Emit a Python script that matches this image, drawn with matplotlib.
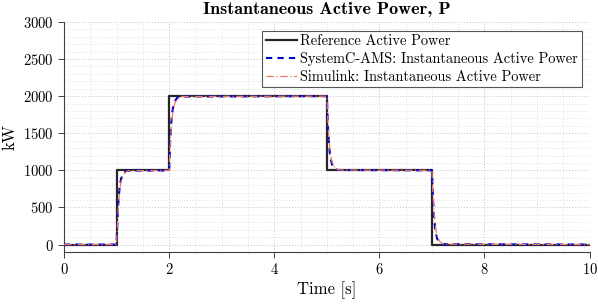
import matplotlib
matplotlib.use("Agg")
import matplotlib.pyplot as plt
from matplotlib.ticker import MultipleLocator

plt.rcParams['font.family'] = ['cmr10', 'DejaVu Serif']
plt.rcParams['axes.formatter.use_mathtext'] = True
plt.rcParams['mathtext.fontset'] = 'cm'

# Reference step profile
ref_t = [0, 1, 1, 2, 2, 5, 5, 7, 7, 10]
ref_p = [0, 0, 1000, 1000, 2000, 2000, 1000, 1000, 0, 0]

# SystemC-AMS response
sc_t = [0, 1.00, 1.02, 1.04, 1.06, 1.08, 1.10, 1.15, 1.20, 2.00, 2.02, 2.04, 2.06, 2.08, 2.10, 2.15, 2.20,
        5.00, 5.02, 5.04, 5.06, 5.08, 5.10, 5.15, 5.20, 7.00, 7.02, 7.04, 7.06, 7.08, 7.10, 7.15, 7.20, 10]
sc_p = [0, 0, 390, 630, 780, 865, 920, 975, 995, 1000, 1390, 1630, 1780, 1865, 1920, 1975, 1995,
        2000, 1610, 1370, 1220, 1135, 1080, 1025, 1005, 1000, 610, 370, 220, 135, 80, 25, 5, 0]

# Simulink response
sl_t = [0, 1.00, 1.02, 1.04, 1.06, 1.08, 1.10, 1.15, 1.22, 2.00, 2.02, 2.04, 2.06, 2.08, 2.10, 2.15, 2.22,
        5.00, 5.02, 5.04, 5.06, 5.08, 5.10, 5.15, 5.22, 7.00, 7.02, 7.04, 7.06, 7.08, 7.10, 7.15, 7.22, 10]
sl_p = [0, 0, 330, 560, 720, 820, 885, 960, 995, 1000, 1330, 1560, 1720, 1820, 1885, 1960, 1995,
        2000, 1670, 1440, 1280, 1180, 1115, 1040, 1005, 1000, 670, 440, 280, 180, 115, 40, 5, 0]

fig = plt.figure(figsize=(5.98, 3.04), dpi=100)
ax = fig.add_axes([0.107, 0.171, 0.879, 0.757])

ax.plot(ref_t, ref_p, color='#262626', lw=1.6, label='Reference Active Power', zorder=3)
ax.plot(sc_t, sc_p, color='#0000c8', lw=1.5, ls=(0, (3, 2.5)), label='SystemC-AMS: Instantaneous Active Power', zorder=4)
ax.plot(sl_t, sl_p, color='#f07860', lw=0.9, ls=(0, (6, 2, 1, 2)), label='Simulink: Instantaneous Active Power', zorder=5)

ax.set_xlim(0, 10)
ax.set_ylim(-100, 3000)
ax.xaxis.set_major_locator(MultipleLocator(2))
ax.xaxis.set_minor_locator(MultipleLocator(0.5))
ax.yaxis.set_major_locator(MultipleLocator(500))
ax.yaxis.set_minor_locator(MultipleLocator(100))
ax.grid(which='major', color='#c0c0c0', ls=(0, (1, 2)), lw=0.7)
ax.grid(which='minor', color='#dadada', ls=(0, (1, 2)), lw=0.6)
ax.set_axisbelow(True)

for s in ['top', 'right']:
    ax.spines[s].set_visible(False)
for s in ['left', 'bottom']:
    ax.spines[s].set_color('#404040')
    ax.spines[s].set_linewidth(0.8)
ax.tick_params(which='major', direction='out', length=4, width=0.7, color='#404040', labelsize=10.5)
ax.tick_params(which='minor', length=0)

ax.set_title('Instantaneous Active Power, P', fontsize=13, family=['cmb10', 'DejaVu Serif'], pad=6)
ax.set_xlabel('Time [s]', fontsize=12, labelpad=3)
ax.set_ylabel('kW', fontsize=12, labelpad=4)

leg = ax.legend(loc='upper right', bbox_to_anchor=(0.9905, 0.975), fontsize=10.4, frameon=True, fancybox=False,
                framealpha=1, edgecolor='#555555', handlelength=2.2, handletextpad=0.2,
                borderpad=0.25, labelspacing=0.28, borderaxespad=0.2)
leg.get_frame().set_linewidth(0.8)

fig.savefig('out.png', dpi=100)
